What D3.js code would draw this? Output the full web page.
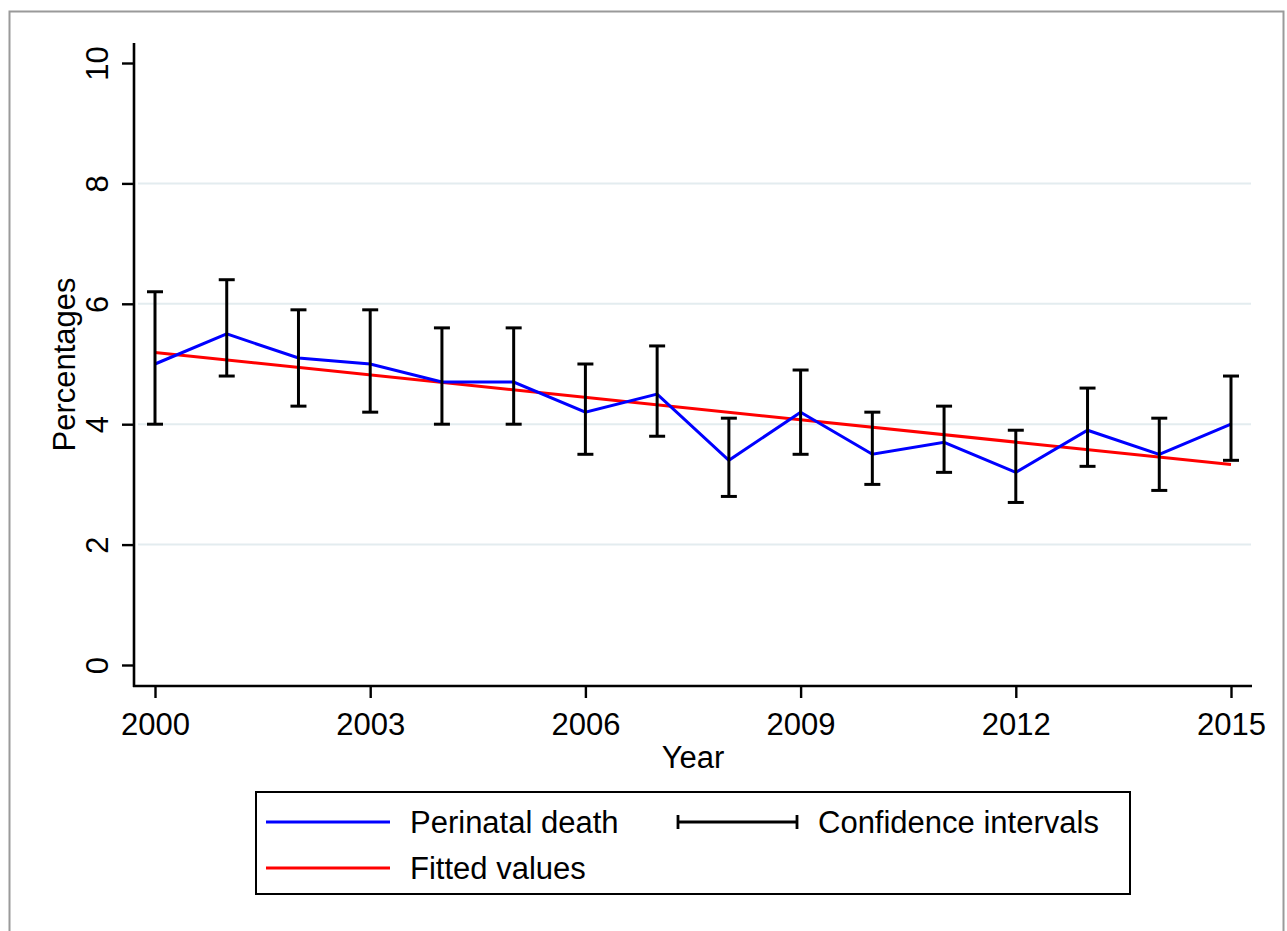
<!DOCTYPE html>
<html>
<head>
<meta charset="utf-8">
<script src="https://cdn.jsdelivr.net/npm/d3@7"></script>
<style>
  body { margin: 0; background: #fff; }
  svg text { font-family: "Liberation Sans", Arial, sans-serif; fill: #000; }
</style>
</head>
<body>
<div id="graph-container"></div>
<script>
const years = [2000, 2001, 2002, 2003, 2004, 2005, 2006, 2007, 2008, 2009, 2010, 2011, 2012, 2013, 2014, 2015];
const perinatalDeath = [5.0, 5.5, 5.1, 5.0, 4.7, 4.7, 4.2, 4.5, 3.4, 4.2, 3.5, 3.7, 3.2, 3.9, 3.5, 4.0];
const ciLower = [4.0, 4.8, 4.3, 4.2, 4.0, 4.0, 3.5, 3.8, 2.8, 3.5, 3.0, 3.2, 2.7, 3.3, 2.9, 3.4];
const ciUpper = [6.2, 6.4, 5.9, 5.9, 5.6, 5.6, 5.0, 5.3, 4.1, 4.9, 4.2, 4.3, 3.9, 4.6, 4.1, 4.8];
const fittedYears = [2000, 2015];
const fittedValues = [5.19, 3.33];
const xTicks = [2000, 2003, 2006, 2009, 2012, 2015];
const yTicks = [0, 2, 4, 6, 8, 10];
const gridTicks = [2, 4, 6, 8];

const WIDTH = 1287,
    HEIGHT = 931;

const svg = d3.select("#graph-container")
    .append("svg")
    .attr("width", WIDTH)
    .attr("height", HEIGHT);

// outer frame
svg.append("rect")
    .attr("x", 9.5).attr("y", 11.5)
    .attr("width", 1274).attr("height", 940)
    .attr("fill", "none")
    .attr("stroke", "#9a9a9a")
    .attr("stroke-width", 2);

const escalaX = d3.scaleLinear()
    .domain([2000, 2015])
    .range([155, 1231]);

const escalaY = d3.scaleLinear()
    .domain([0, 10])
    .range([665, 63]);

const axisLeftX = 134,
    axisBottomY = 686;

// grid lines
svg.append("g")
    .selectAll("line")
    .data(gridTicks)
    .join("line")
    .attr("x1", 138)
    .attr("x2", 1251)
    .attr("y1", d => escalaY(d))
    .attr("y2", d => escalaY(d))
    .attr("stroke", "#e3ecef")
    .attr("stroke-width", 2);

// y axis
const yAxis = svg.append("g")
    .attr("transform", `translate(${axisLeftX},0)`)
    .call(d3.axisLeft(escalaY).tickValues(yTicks).tickSize(12).tickPadding(0).tickFormat(d3.format("d")));
yAxis.select(".domain").remove();
yAxis.selectAll("line").attr("stroke", "#000").attr("stroke-width", 2.4);
yAxis.selectAll("text")
    .attr("font-size", 31)
    .attr("x", 0).attr("y", 0).attr("dy", 0)
    .attr("text-anchor", "middle")
    .attr("transform", "translate(-26,0) rotate(-90)");

svg.append("line")
    .attr("x1", axisLeftX).attr("x2", axisLeftX)
    .attr("y1", 43).attr("y2", axisBottomY + 1)
    .attr("stroke", "#000").attr("stroke-width", 2.6);

// x axis
const xAxis = svg.append("g")
    .attr("transform", `translate(0,${axisBottomY})`)
    .call(d3.axisBottom(escalaX).tickValues(xTicks).tickSize(12).tickPadding(0).tickFormat(d3.format("d")));
xAxis.select(".domain").remove();
xAxis.selectAll("line").attr("stroke", "#000").attr("stroke-width", 2.4);
xAxis.selectAll("text")
    .attr("font-size", 31)
    .attr("y", 49).attr("dy", 0);

svg.append("line")
    .attr("x1", axisLeftX - 1).attr("x2", 1252)
    .attr("y1", axisBottomY).attr("y2", axisBottomY)
    .attr("stroke", "#000").attr("stroke-width", 2.6);

// axis titles
svg.append("text")
    .attr("x", 693).attr("y", 768)
    .attr("text-anchor", "middle")
    .attr("font-size", 31)
    .text("Year");

svg.append("text")
    .attr("transform", `translate(75,${(43 + axisBottomY) / 2}) rotate(-90)`)
    .attr("text-anchor", "middle")
    .attr("font-size", 31)
    .text("Percentages");

const g = svg.append("g");

// fitted line
g.append("path")
    .datum(fittedYears.map((y, i) => [y, fittedValues[i]]))
    .attr("fill", "none")
    .attr("stroke", "#ff0000")
    .attr("stroke-width", 3)
    .attr("d", d3.line().x(d => escalaX(d[0])).y(d => escalaY(d[1])));

// perinatal death line
g.append("path")
    .datum(years.map((y, i) => [y, perinatalDeath[i]]))
    .attr("fill", "none")
    .attr("stroke", "#0000ff")
    .attr("stroke-width", 3)
    .attr("d", d3.line().x(d => escalaX(d[0])).y(d => escalaY(d[1])));

// confidence intervals
const capHalf = 8;
const bars = g.append("g")
    .selectAll("g")
    .data(years.map((y, i) => ({ year: y, lo: ciLower[i], hi: ciUpper[i] })))
    .join("g")
    .attr("stroke", "#000")
    .attr("stroke-width", 3);

bars.append("line")
    .attr("x1", d => escalaX(d.year)).attr("x2", d => escalaX(d.year))
    .attr("y1", d => escalaY(d.lo)).attr("y2", d => escalaY(d.hi));
bars.append("line")
    .attr("x1", d => escalaX(d.year) - capHalf).attr("x2", d => escalaX(d.year) + capHalf)
    .attr("y1", d => escalaY(d.lo)).attr("y2", d => escalaY(d.lo));
bars.append("line")
    .attr("x1", d => escalaX(d.year) - capHalf).attr("x2", d => escalaX(d.year) + capHalf)
    .attr("y1", d => escalaY(d.hi)).attr("y2", d => escalaY(d.hi));

// legend
const legend = svg.append("g");
legend.append("rect")
    .attr("x", 256).attr("y", 792)
    .attr("width", 874).attr("height", 102)
    .attr("fill", "#fff")
    .attr("stroke", "#000")
    .attr("stroke-width", 2);

const legendItems = [
    { label: "Perinatal death", color: "#0000ff", x: 266, y: 822, type: "line" },
    { label: "Fitted values", color: "#ff0000", x: 266, y: 868, type: "line" },
    { label: "Confidence intervals", color: "#000", x: 678, y: 822, type: "ci" }
];

legendItems.forEach(item => {
    const sym = legend.append("g").attr("stroke", item.color).attr("stroke-width", 2.8);
    if (item.type === "line") {
        sym.append("line")
            .attr("x1", item.x).attr("x2", item.x + 124)
            .attr("y1", item.y).attr("y2", item.y);
    } else {
        sym.append("line")
            .attr("x1", item.x).attr("x2", item.x + 119)
            .attr("y1", item.y).attr("y2", item.y);
        [item.x, item.x + 119].forEach(cx => {
            sym.append("line")
                .attr("x1", cx).attr("x2", cx)
                .attr("y1", item.y - 7).attr("y2", item.y + 7);
        });
    }
    legend.append("text")
        .attr("x", item.type === "line" ? item.x + 144 : item.x + 140)
        .attr("y", item.y + 11)
        .attr("font-size", 31)
        .text(item.label);
});
</script>
</body>
</html>
